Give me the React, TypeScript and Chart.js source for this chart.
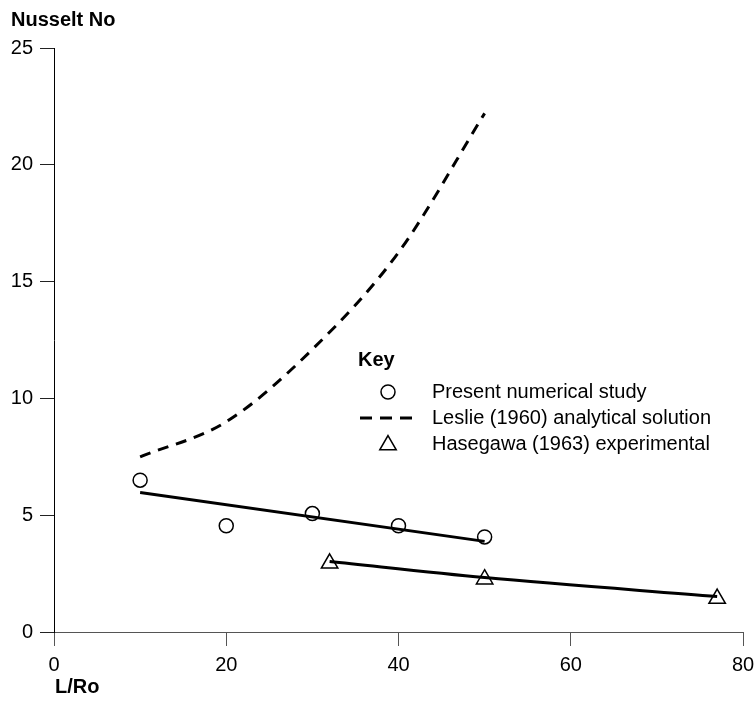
import React, { useEffect, useRef } from "react";
import { Chart, registerables } from "chart.js";

Chart.register(...registerables);

// ---- data ----
const xTickValues = [0, 20, 40, 60, 80];
const yTickValues = [0, 5, 10, 15, 20, 25];

const presentX = [10, 20, 30, 40, 50];
const presentY = [6.5, 4.55, 5.07, 4.55, 4.07];

const presentFitX = [10, 50];
const presentFitY = [5.97, 3.88];

const leslieX = [10, 20, 30, 40, 50];
const leslieY = [7.5, 9.0, 12.1, 16.25, 22.2];

const hasegawaX = [32, 50, 77];
const hasegawaY = [2.94, 2.26, 1.43];

const hasegawaFitX = [32, 50, 77];
const hasegawaFitY = [3.02, 2.33, 1.52];

const legendTitle = "Key";
const legendLabels = [
  "Present numerical study",
  "Leslie (1960) analytical solution",
  "Hasegawa (1963) experimental",
];
const yAxisTitle = "Nusselt No";
const xAxisTitle = "L/Ro";

const FONT = '"Liberation Sans", Arial, Helvetica, sans-serif';
const FS = 20;

const CANVAS_W = 776;
const CANVAS_H = 701;

const toPts = (xs: number[], ys: number[]) => xs.map((x, i) => ({ x, y: ys[i] }));

const annotationsPlugin = {
  id: "annotations",
  afterDraw(chart: any) {
    const { ctx, chartArea } = chart;
    ctx.save();
    ctx.fillStyle = "#000";
    ctx.textBaseline = "middle";
    ctx.textAlign = "left";
    ctx.font = `bold ${FS}px ${FONT}`;
    // axis titles
    ctx.fillText(yAxisTitle, chartArea.left - 43, chartArea.top - 28);
    ctx.fillText(xAxisTitle, chartArea.left + 1, chartArea.bottom + 55);

    // legend (Key)
    const lx = chartArea.left + 304;
    const ly = chartArea.top + 312;
    ctx.fillText(legendTitle, lx, ly);
    ctx.font = `${FS}px ${FONT}`;
    const markX = lx + 30;
    const textX = lx + 74;
    const rows = [ly + 32, ly + 58, ly + 84];
    legendLabels.forEach((t, i) => ctx.fillText(t, textX, rows[i]));

    ctx.strokeStyle = "#000";
    // circle
    ctx.lineWidth = 1.5;
    ctx.beginPath();
    ctx.arc(markX, rows[0], 7, 0, Math.PI * 2);
    ctx.stroke();
    // dashes
    ctx.lineWidth = 3;
    ctx.setLineDash([12, 8]);
    ctx.beginPath();
    ctx.moveTo(lx + 2, rows[1]);
    ctx.lineTo(lx + 56, rows[1]);
    ctx.stroke();
    ctx.setLineDash([]);
    // triangle
    ctx.lineWidth = 1.5;
    const r = 9.5;
    const cy = rows[2] + 1;
    ctx.beginPath();
    ctx.moveTo(markX, cy - r);
    ctx.lineTo(markX + (r * Math.sqrt(3)) / 2, cy + r / 2);
    ctx.lineTo(markX - (r * Math.sqrt(3)) / 2, cy + r / 2);
    ctx.closePath();
    ctx.stroke();
    ctx.restore();
  },
};

export default function App() {
  const ref = useRef<HTMLCanvasElement | null>(null);

  useEffect(() => {
    if (!ref.current) return;
    const chart = new Chart(ref.current, {
      type: "scatter",
      data: {
        datasets: [
          {
            label: legendLabels[1],
            data: toPts(leslieX, leslieY),
            showLine: true,
            borderColor: "#000",
            borderWidth: 3,
            borderDash: [11, 8],
            pointRadius: 0,
            cubicInterpolationMode: "monotone",
            order: 5,
          },
          {
            label: legendLabels[0] + " fit",
            data: toPts(presentFitX, presentFitY),
            showLine: true,
            borderColor: "#000",
            borderWidth: 3,
            pointRadius: 0,
            order: 4,
          },
          {
            label: "Hasegawa fit",
            data: toPts(hasegawaFitX, hasegawaFitY),
            showLine: true,
            borderColor: "#000",
            borderWidth: 3,
            pointRadius: 0,
            cubicInterpolationMode: "monotone",
            order: 3,
          },
          {
            label: legendLabels[0],
            data: toPts(presentX, presentY),
            showLine: false,
            pointStyle: "circle",
            pointRadius: 7,
            pointBorderWidth: 1.5,
            pointBorderColor: "#000",
            pointBackgroundColor: "rgba(0,0,0,0)",
            order: 2,
          },
          {
            label: legendLabels[2],
            data: toPts(hasegawaX, hasegawaY),
            showLine: false,
            pointStyle: "triangle",
            pointRadius: 9.5,
            pointBorderWidth: 1.5,
            pointBorderColor: "#000",
            pointBackgroundColor: "rgba(0,0,0,0)",
            order: 1,
          },
        ],
      },
      options: {
        animation: false,
        responsive: false,
        events: [],
        layout: { padding: { top: 48, right: CANVAS_W - 743, left: 0, bottom: 0 } },
        plugins: {
          legend: { display: false },
          tooltip: { enabled: false },
          title: { display: false },
        },
        scales: {
          x: {
            type: "linear",
            min: 0,
            max: 80,
            afterBuildTicks: (s: any) => {
              s.ticks = xTickValues.map((v) => ({ value: v }));
            },
            afterFit: (s: any) => {
              s.height = 69;
            },
            border: { display: true, color: "#555", width: 1 },
            grid: {
              display: true,
              drawOnChartArea: false,
              drawTicks: true,
              tickLength: 14,
              color: "#555",
              lineWidth: 1,
            },
            ticks: {
              padding: 7,
              color: "#000",
              maxRotation: 0,
              font: { family: FONT, size: FS },
            },
          },
          y: {
            type: "linear",
            min: 0,
            max: 25,
            afterBuildTicks: (s: any) => {
              s.ticks = yTickValues.map((v) => ({ value: v }));
            },
            afterFit: (s: any) => {
              s.width = 54;
            },
            border: { display: true, color: "#000", width: 1 },
            grid: {
              display: true,
              drawOnChartArea: false,
              drawTicks: true,
              tickLength: 14,
              color: "#222",
              lineWidth: 1,
            },
            ticks: {
              padding: 7,
              color: "#000",
              font: { family: FONT, size: FS },
            },
          },
        },
      },
      plugins: [annotationsPlugin],
    } as any);
    return () => chart.destroy();
  }, []);

  return (
    <div
      style={{
        position: "absolute",
        left: 0,
        top: 0,
        width: 755,
        height: 701,
        overflow: "hidden",
        background: "#fff",
      }}
    >
      <canvas
        ref={ref}
        width={CANVAS_W}
        height={CANVAS_H}
        style={{ width: CANVAS_W, height: CANVAS_H, display: "block" }}
      />
    </div>
  );
}
